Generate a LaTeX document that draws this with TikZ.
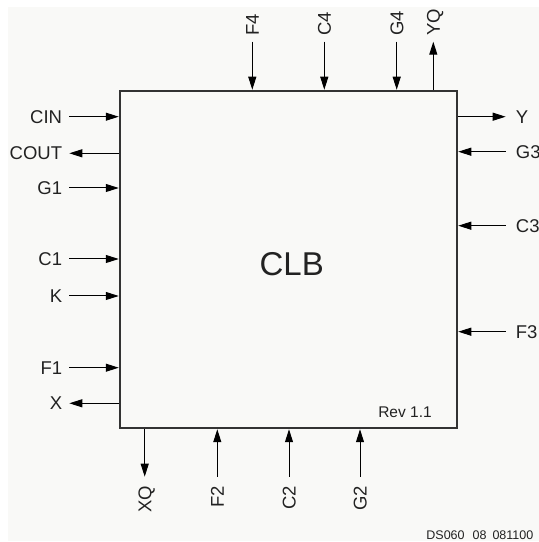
\documentclass[tikz,border=0pt]{standalone}
\usepackage{fontspec}
\setmainfont{Liberation Sans}
\usetikzlibrary{arrows.meta}
\definecolor{paper}{HTML}{F9F9F7}
\definecolor{ink}{HTML}{222222}
\definecolor{boxline}{HTML}{333333}

\begin{document}
\begin{tikzpicture}[x=1pt, y=1pt,
  port/.style={text=ink, font=\fontsize{18.5}{20}\selectfont, text height=13.3pt, text depth=0pt, inner ysep=0pt},
  portL/.style={port, inner xsep=7pt, anchor=east},
  portR/.style={port, inner xsep=10pt, anchor=west},
  portT/.style={port, inner xsep=6pt, rotate=90, anchor=west},
  portB/.style={port, inner xsep=9pt, rotate=90, anchor=east},
  sig/.style={-{Triangle[length=13pt, width=8pt]}, line width=1pt, black}]
\useasboundingbox (0,0) rectangle (539,542);
\fill[paper] (8,1) rectangle (539,535); % sheet
%
% CLB block
\node[draw=boxline, line width=2.5pt, minimum width=337pt, minimum height=337pt, inner sep=0pt] (clb) at (288.5,282.5) {};
\node[text=ink, font=\fontsize{33}{36}\selectfont, anchor=base, inner sep=0pt] (title) at (291.7,266) {CLB};
\node[text=ink, font=\fontsize{15.5}{17}\selectfont, anchor=base, inner sep=0pt] (rev) at (405,124.7) {Rev 1.1};
%
% Left side
\node[portL] (cin) at (69.3,425.3) {CIN};
\draw[sig] (cin) -- (cin -| clb.west);
\node[portL] (cout) at (69.3,388.7) {COUT};
\draw[sig] (cout -| clb.west) -- (cout);
\node[portL] (g1) at (69.3,354) {G1};
\draw[sig] (g1) -- (g1 -| clb.west);
\node[portL] (c1) at (69.3,283) {C1};
\draw[sig] (c1) -- (c1 -| clb.west);
\node[portL] (k) at (69.3,246) {K};
\draw[sig] (k) -- (k -| clb.west);
\node[portL] (f1) at (69.3,174.3) {F1};
\draw[sig] (f1) -- (f1 -| clb.west);
\node[portL] (xout) at (69.3,138.7) {X};
\draw[sig] (xout -| clb.west) -- (xout);
%
% Right side
\node[portR] (yout) at (505.7,425.3) {Y};
\draw[sig] (yout -| clb.east) -- (yout);
\node[portR] (g3) at (505.7,390.3) {G3};
\draw[sig] (g3) -- (g3 -| clb.east);
\node[portR] (c3) at (505.7,316.3) {C3};
\draw[sig] (c3) -- (c3 -| clb.east);
\node[portR] (f3) at (505.7,210.3) {F3};
\draw[sig] (f3) -- (f3 -| clb.east);
%
% Top side
\node[portT] (f4) at (252.3,500.3) {F4};
\draw[sig] (f4) -- (f4 |- clb.north);
\node[portT] (c4) at (324.3,500.3) {C4};
\draw[sig] (c4) -- (c4 |- clb.north);
\node[portT] (g4) at (396.7,500.3) {G4};
\draw[sig] (g4) -- (g4 |- clb.north);
\node[portT] (yq) at (433.3,500.3) {YQ};
\draw[sig] (yq |- clb.north) -- (yq);
%
% Bottom side
\node[portB] (xq) at (144.7,65.3) {XQ};
\draw[sig] (xq |- clb.south) -- (xq);
\node[portB] (f2) at (217.3,65.3) {F2};
\draw[sig] (f2) -- (f2 |- clb.south);
\node[portB] (c2) at (289,65.3) {C2};
\draw[sig] (c2) -- (c2 |- clb.south);
\node[portB] (g2) at (360,65.3) {G2};
\draw[sig] (g2) -- (g2 |- clb.south);
%
\node[text=ink, font=\fontsize{12.5}{14}\selectfont, anchor=base east, inner sep=0pt] (dsnum) at (533.5,2) {DS060\hspace{8pt}08\hspace{6pt}081100};
\end{tikzpicture}
\end{document}
